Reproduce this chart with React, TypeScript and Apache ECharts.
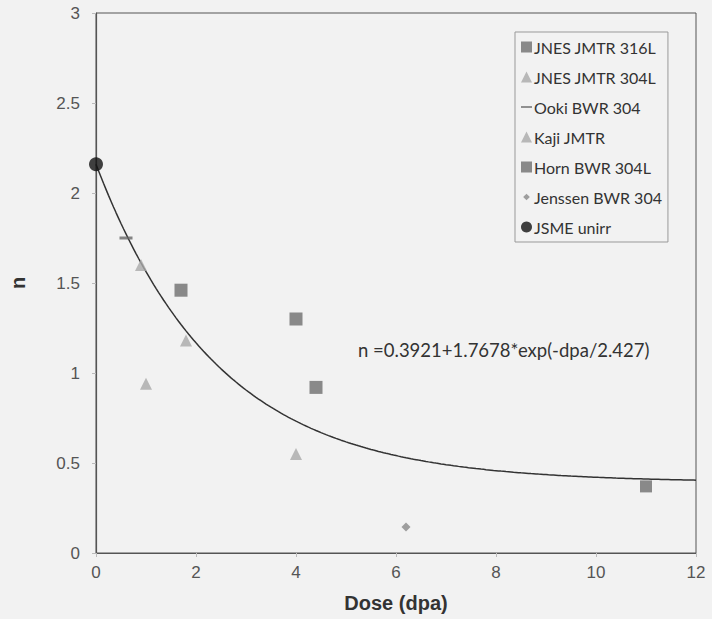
import React, { useEffect, useRef } from "react";
import * as echarts from "echarts";

// Measured points: [dose (dpa), n]
const jnes316L: number[][] = [[1.7, 1.46], [4.0, 1.3], [4.4, 0.92]];
const jnes304L: number[][] = [[0.9, 1.6], [4.0, 0.55]];
const ookiBwr304: number[][] = [[0.6, 1.75]];
const kajiJmtr: number[][] = [[1.0, 0.94], [1.8, 1.18]];
const hornBwr304L: number[][] = [[11.0, 0.37]];
const jenssenBwr304: number[][] = [[6.2, 0.145]];
const jsmeUnirr: number[][] = [[0, 2.16]];

// Fitted curve n = a + b * exp(-dpa / c)
const fitA = 0.3921;
const fitB = 1.7678;
const fitC = 2.427;
const fitLabel = "n =0.3921+1.7678*exp(-dpa/2.427)";

const xTicks = [0, 2, 4, 6, 8, 10, 12];
const yTicks = [0, 0.5, 1, 1.5, 2, 2.5, 3];

const fitCurve: number[][] = [];
for (let i = 0; i <= 240; i++) {
  const x = (12 * i) / 240;
  fitCurve.push([x, fitA + fitB * Math.exp(-x / fitC)]);
}

const legendFont = "Lato, 'Open Sans', sans-serif";
const axisFont = "'Liberation Sans', Arial, sans-serif";
const dashIcon = "path://M0,0L0,0M0,4.2H10V5.8H0ZM10,10L10,10";

export default function App() {
  const ref = useRef<HTMLDivElement>(null);

  useEffect(() => {
    document.body.style.margin = "0";
    if (!ref.current) return;
    const chart = echarts.init(ref.current, undefined, { renderer: "svg" });
    chart.setOption({
      animation: false,
      backgroundColor: "#f2f2f2",
      grid: {
        left: 93,
        top: 13,
        width: 603,
        height: 540,
        show: true,
        borderColor: "#555",
        borderWidth: 1,
        backgroundColor: "transparent",
      },
      xAxis: {
        type: "value",
        min: xTicks[0],
        max: xTicks[xTicks.length - 1],
        interval: 2,
        name: "Dose (dpa)",
        nameLocation: "middle",
        nameGap: 40,
        nameTextStyle: { fontFamily: axisFont, fontSize: 20, fontWeight: "bold", color: "#333" },
        axisLine: { lineStyle: { color: "#555", width: 1.2 } },
        axisTick: { show: true, length: 4, lineStyle: { color: "#bbb" } },
        axisLabel: { fontFamily: axisFont, fontSize: 17, color: "#555", margin: 11 },
        splitLine: { show: false },
      },
      yAxis: {
        type: "value",
        min: yTicks[0],
        max: yTicks[yTicks.length - 1],
        interval: 0.5,
        name: "n",
        nameLocation: "middle",
        nameGap: 68,
        nameTextStyle: { fontFamily: axisFont, fontSize: 20, fontWeight: "bold", color: "#333" },
        axisLine: { show: true, lineStyle: { color: "#555", width: 1.2 } },
        axisTick: { show: true, length: 4, lineStyle: { color: "#bbb" } },
        axisLabel: { fontFamily: axisFont, fontSize: 17, color: "#555", margin: 16 },
        splitLine: { show: false },
      },
      legend: {
        orient: "vertical",
        left: 515,
        top: 32,
        padding: [6, 6, 6, 6],
        itemWidth: 11,
        itemHeight: 11,
        itemGap: 12,
        borderColor: "#999",
        borderWidth: 1,
        backgroundColor: "#f2f2f2",
        textStyle: { fontFamily: legendFont, fontSize: 16, lineHeight: 18, color: "#333", padding: [0, 0, 0, -3] },
        data: [
          { name: "JNES JMTR 316L", icon: "rect" },
          { name: "JNES JMTR 304L", icon: "triangle" },
          { name: "Ooki BWR 304", icon: dashIcon },
          { name: "Kaji JMTR", icon: "triangle" },
          { name: "Horn BWR 304L", icon: "rect" },
          { name: "Jenssen BWR 304", icon: "path://M0,0L0,0M5,2L8,5L5,8L2,5ZM10,10L10,10" },
          { name: "JSME unirr", icon: "circle" },
        ],
      },
      graphic: [
        {
          type: "text",
          left: 358,
          top: 340,
          style: { text: fitLabel, fontFamily: legendFont, fontSize: 18.5, fill: "#333" },
        },
      ],
      series: [
        {
          name: "fit",
          type: "line",
          data: fitCurve,
          showSymbol: false,
          smooth: false,
          lineStyle: { color: "#333", width: 1.5 },
          z: 1,
          silent: true,
        },
        {
          name: "JNES JMTR 316L",
          type: "scatter",
          data: jnes316L,
          symbol: "rect",
          symbolSize: 13,
          itemStyle: { color: "#6e6e6e" },
          z: 3,
        },
        {
          name: "JNES JMTR 304L",
          type: "scatter",
          data: jnes304L,
          symbol: "triangle",
          symbolSize: 12,
          itemStyle: { color: "#a9a9a9" },
          z: 3,
        },
        {
          name: "Ooki BWR 304",
          type: "scatter",
          data: ookiBwr304,
          symbol: "rect",
          symbolSize: [13, 3],
          itemStyle: { color: "#666" },
          z: 3,
        },
        {
          name: "Kaji JMTR",
          type: "scatter",
          data: kajiJmtr,
          symbol: "triangle",
          symbolSize: 12,
          itemStyle: { color: "#a9a9a9" },
          z: 3,
        },
        {
          name: "Horn BWR 304L",
          type: "scatter",
          data: hornBwr304L,
          symbol: "rect",
          symbolSize: 12,
          itemStyle: { color: "#6e6e6e" },
          z: 3,
        },
        {
          name: "Jenssen BWR 304",
          type: "scatter",
          data: jenssenBwr304,
          symbol: "diamond",
          symbolSize: 9,
          itemStyle: { color: "#888" },
          z: 3,
        },
        {
          name: "JSME unirr",
          type: "scatter",
          data: jsmeUnirr,
          symbol: "circle",
          symbolSize: 14,
          itemStyle: { color: "#111" },
          z: 4,
        },
      ],
    });
    return () => chart.dispose();
  }, []);

  return <div ref={ref} style={{ width: 712, height: 619 }} />;
}
